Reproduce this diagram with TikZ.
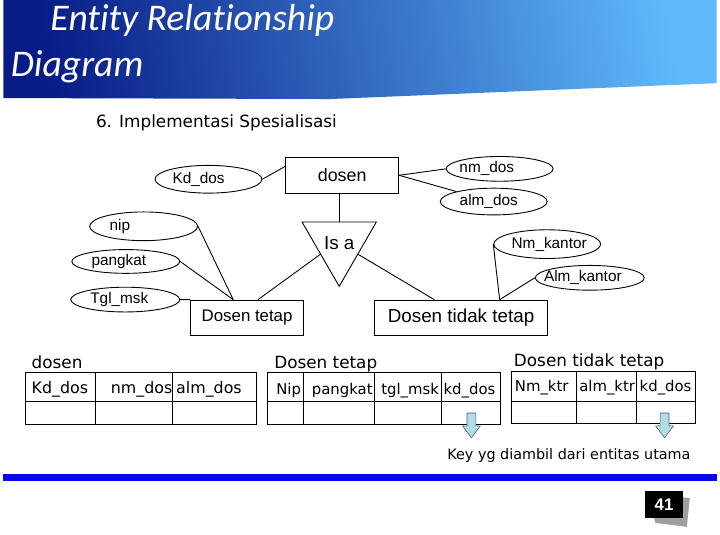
\documentclass[tikz,border=0pt]{standalone}
\usepackage{fontspec}
\setmainfont{Liberation Sans}
\newfontfamily\titlefont[Ligatures=CommonOff]{Carlito}
\newfontfamily\comicfont{DejaVu Sans}
\usetikzlibrary{shapes.geometric}

\definecolor{hdrdark}{RGB}{8,28,135}
\definecolor{hdrmid}{RGB}{40,112,215}
\definecolor{hdrlight}{RGB}{95,185,250}
\definecolor{ruleblue}{RGB}{5,10,230}
\definecolor{keyfill}{RGB}{180,220,230}
\definecolor{keyedge}{RGB}{70,100,120}

\tikzset{
  entity/.style={draw, rectangle, inner sep=0pt, minimum height=36pt},
  isa/.style={draw, regular polygon, regular polygon sides=3, shape border rotate=180,
    minimum size=83pt, inner sep=0pt, font=\fontsize{19}{21}\selectfont},
  attr/.style={draw, ellipse, inner sep=0pt},
  attrtext/.style={font=\fontsize{15.5}{18}\selectfont},
  title/.style={anchor=base west, inner sep=0pt, text=white,
    font=\titlefont\itshape\fontsize{38}{42}\selectfont},
  tabtitle/.style={anchor=base west, inner sep=0pt, font=\comicfont\fontsize{17}{20}\selectfont},
  tabtext/.style={anchor=base west, inner sep=0pt, font=\comicfont\fontsize{15}{18}\selectfont}
}

\begin{document}
\begin{tikzpicture}[x=1pt,y=-1pt,line width=0.9pt]
      % \draw[help lines](0,0) grid (720,540);

      % Bounding box
      \path (0,0) rectangle (720,540);

      % header
      \shade[top color=hdrlight, middle color=hdrmid, bottom color=hdrdark, shading angle=-80]
        (0,0) -- (720,0) -- (720,84) -- (330,100) -- (0,99) -- cycle;
      \draw (47,31) node[title] (ttl1) {Entity Relationship};
      \draw (7,77) node[title] (ttl2) {Diagram};
      \draw (93,129) node[tabtitle] (sub) {6. Implementasi Spesialisasi};

      % entities
      \draw (342,177) node[entity, minimum width=114pt, font=\fontsize{18}{20}\selectfont] (dosen) {dosen};
      \draw (339,245.8) node[isa] (isa) {Is a};
      \draw (246,321) node[entity, minimum width=114pt, font=\fontsize{17}{20}\selectfont] (tetap) {Dosen tetap};
      \draw (462,321) node[entity, minimum width=174pt, font=\fontsize{19}{21}\selectfont] (tidak) {Dosen tidak tetap};

      % attributes
      \draw (207,181) node[attr, minimum width=108pt, minimum height=28pt,
        label={[attrtext,xshift=-10pt]center:Kd\_dos}] (kd) {};
      \draw (501,170.5) node[attr, minimum width=108pt, minimum height=25pt,
        label={[attrtext,xshift=-13pt]center:nm\_dos}] (nm) {};
      \draw (495,203.5) node[attr, minimum width=108pt, minimum height=27pt,
        label={[attrtext,xshift=-5pt]center:alm\_dos}] (alm) {};
      \draw (141.5,228.5) node[attr, minimum width=109pt, minimum height=29pt,
        label={[attrtext,xshift=-24pt]center:nip}] (nip) {};
      \draw (123.5,264) node[attr, minimum width=109pt, minimum height=24pt,
        label={[attrtext,xshift=-7pt]center:pangkat}] (pangkat) {};
      \draw (123,302.5) node[attr, minimum width=110pt, minimum height=25pt,
        label={[attrtext,xshift=-6pt]center:Tgl\_msk}] (tgl) {};
      \draw (549,246.5) node[attr, minimum width=108pt, minimum height=29pt,
        label={[attrtext,xshift=2pt]center:Nm\_kantor}] (nmk) {};
      \draw (592,280.5) node[attr, minimum width=110pt, minimum height=25pt,
        label={[attrtext,xshift=-7pt]center:Alm\_kantor}] (almk) {};

      \coordinate (tj) at ([xshift=-14pt]tetap.north);
      \coordinate (ttj) at ([xshift=39pt]tidak.north);

      % connectors
      \draw (dosen.south -| isa.north) -- (isa.north);
      \draw (isa.210) -- ([xshift=11pt]tetap.north);
      \draw (isa.330) -- ([xshift=-27pt]tidak.north);
      \draw (kd.east) -- (dosen.171);
      \draw (nm.west) -- (dosen.east);
      \draw (alm.165) -- (dosen.east);
      \draw (nip.east) -- (tj);
      \draw (pangkat.east) -- (tj);
      \draw (tgl.east) -- (tetap.north west);
      \draw (nmk.west) -- (ttj);
      \draw (almk.west) -- (ttj);

      % tables
      \draw (28,372) node[tabtitle] (t1) {dosen};
      \draw (273,372) node[tabtitle] (t2) {Dosen tetap};
      \draw (515,370) node[tabtitle] (t3) {Dosen tidak tetap};

      \draw (22,376) rectangle (255,429);
      \draw (22,405) -- (255,405);
      \foreach \x in {93,171} \draw (\x,376) -- (\x,429);
      \draw (28,397) node[tabtext, font=\comicfont\fontsize{16}{18}\selectfont] (c11) {Kd\_dos};
      \draw (108,397) node[tabtext, font=\comicfont\fontsize{16}{18}\selectfont] (c12) {nm\_dos};
      \draw (174,397) node[tabtext, font=\comicfont\fontsize{16}{18}\selectfont] (c13) {alm\_dos};

      \draw (267,376) rectangle (502,429);
      \draw (267,405) -- (502,405);
      \foreach \x in {303,375,442} \draw (\x,376) -- (\x,429);
      \draw (275,398) node[tabtext] (c21) {Nip};
      \draw (311,398) node[tabtext] (c22) {pangkat};
      \draw (381,398) node[tabtext] (c23) {tgl\_msk};
      \draw (444,398) node[tabtext] (c24) {kd\_dos};

      \draw (513,375) rectangle (699,428);
      \draw (513,405) -- (699,405);
      \foreach \x in {579,639} \draw (\x,375) -- (\x,428);
      \draw (516,395) node[tabtext] (c31) {Nm\_ktr};
      \draw (581,395) node[tabtext] (c32) {alm\_ktr};
      \draw (642,395) node[tabtext] (c33) {kd\_dos};

      % key arrows
      \foreach \x in {472.5,667.5}
        \filldraw[fill=keyfill, draw=keyedge, line width=0.6pt]
          (\x-4.5,417) -- (\x+4.5,417) -- (\x+4.5,430) -- (\x+9,430) -- (\x,442)
          -- (\x-9,430) -- (\x-4.5,430) -- cycle;
      \draw (571,460) node[font=\comicfont\fontsize{14.5}{17}\selectfont] (key) {Key yg diambil dari entitas utama};

      % footer
      \draw[ruleblue, line width=7pt] (0,482.5) -- (720,482.5);
      \fill[gray!75] (652,498) -- (693,503) -- (690,532) -- (658,528) -- cycle;
      \draw (667,509.5) node[fill=black, text=white, minimum width=38pt, minimum height=27pt,
        inner sep=0pt, font=\bfseries\fontsize{17}{19}\selectfont] (page) {41};
\end{tikzpicture}
\end{document}
